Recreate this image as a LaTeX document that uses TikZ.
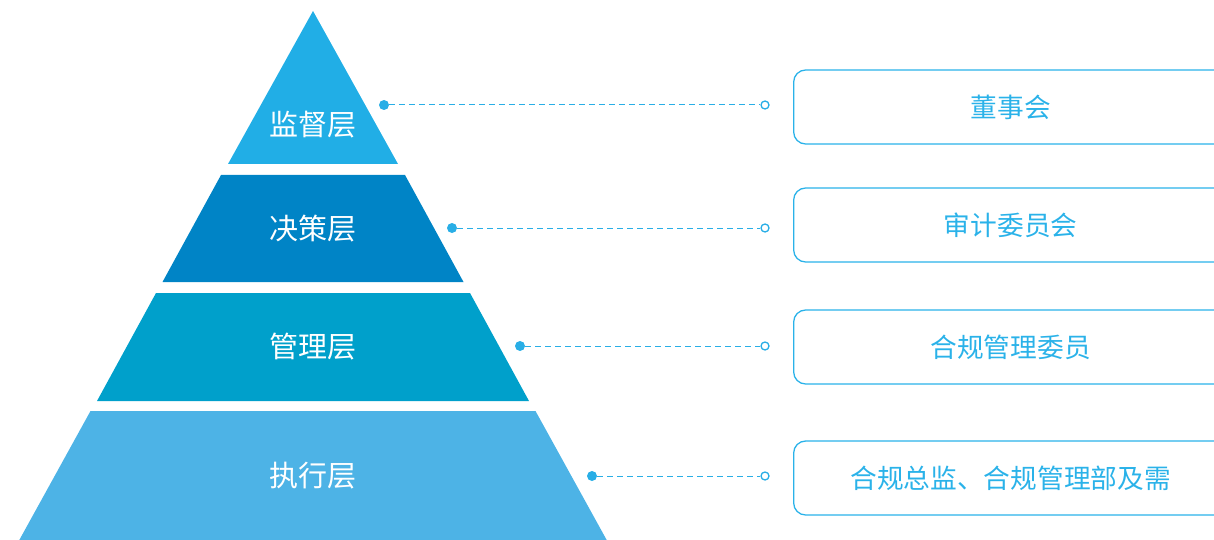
\documentclass[tikz,border=0pt]{standalone}
\usepackage{fontspec}
\setmainfont{Noto Sans CJK SC}
\definecolor{layerA}{HTML}{21AEE6}
\definecolor{layerB}{HTML}{0084C6}
\definecolor{layerC}{HTML}{00A0CB}
\definecolor{layerD}{HTML}{4DB3E6}
\definecolor{lineblue}{HTML}{29AEE6}
\definecolor{boxblue}{HTML}{2AB2E9}
\tikzset{
  layerlabel/.style={text=white, font=\fontsize{29}{29}\selectfont},
  dot/.style={circle, fill=lineblue, inner sep=0pt, minimum size=10},
  ring/.style={circle, draw=lineblue, fill=white, line width=1.3, inner sep=0pt, minimum size=8},
  link/.style={draw=lineblue, line width=1, dash pattern=on 6pt off 4pt},
  rolebox/.style={draw=boxblue, rounded corners=12, line width=1.3, anchor=west,
    minimum width=434, minimum height=74, text=boxblue, font=\fontsize{26.7}{26.7}\selectfont},
}
\begin{document}
\begin{tikzpicture}[x=1pt, y=-1pt]
    \useasboundingbox (0,0) rectangle (1214,540);
    \clip (0,0) rectangle (1214,540);
    % pyramid
    \fill[layerA] (313,11) -- (398,164) -- (228,164) -- cycle;
    \fill[layerB] (221,175) -- (405,175) -- (463.5,282) -- (162.5,282) -- cycle;
    \fill[layerC] (156,293) -- (470,293) -- (529,401) -- (97,401) -- cycle;
    \fill[layerD] (90.5,411) -- (535.5,411) -- (610,546) -- (16,546) -- cycle;
    \node[layerlabel] (supervise) at (313,125) {监督层};
    \node[layerlabel] (decide) at (313,229) {决策层};
    \node[layerlabel] (manage) at (313,347) {管理层};
    \node[layerlabel] (execute) at (313,476) {执行层};
    % roles
    \node[rolebox] (board) at (793,107) {董事会};
    \node[rolebox] (audit) at (793,225) {审计委员会};
    \node[rolebox] (committee) at (793,347) {合规管理委员};
    \node[rolebox] (officer) at (793,478) {合规总监、合规管理部及需};
    % connectors
    \node[dot] (d1) at (384,105) {};
    \node[dot] (d2) at (452,228) {};
    \node[dot] (d3) at (520,346) {};
    \node[dot] (d4) at (592,476) {};
    \node[ring] (r1) at (765,105) {};
    \node[ring] (r2) at (765,228) {};
    \node[ring] (r3) at (765,346) {};
    \node[ring] (r4) at (765,476) {};
    \draw[link] (d1) -- (r1);
    \draw[link] (d2) -- (r2);
    \draw[link] (d3) -- (r3);
    \draw[link] (d4) -- (r4);
\end{tikzpicture}
\end{document}
